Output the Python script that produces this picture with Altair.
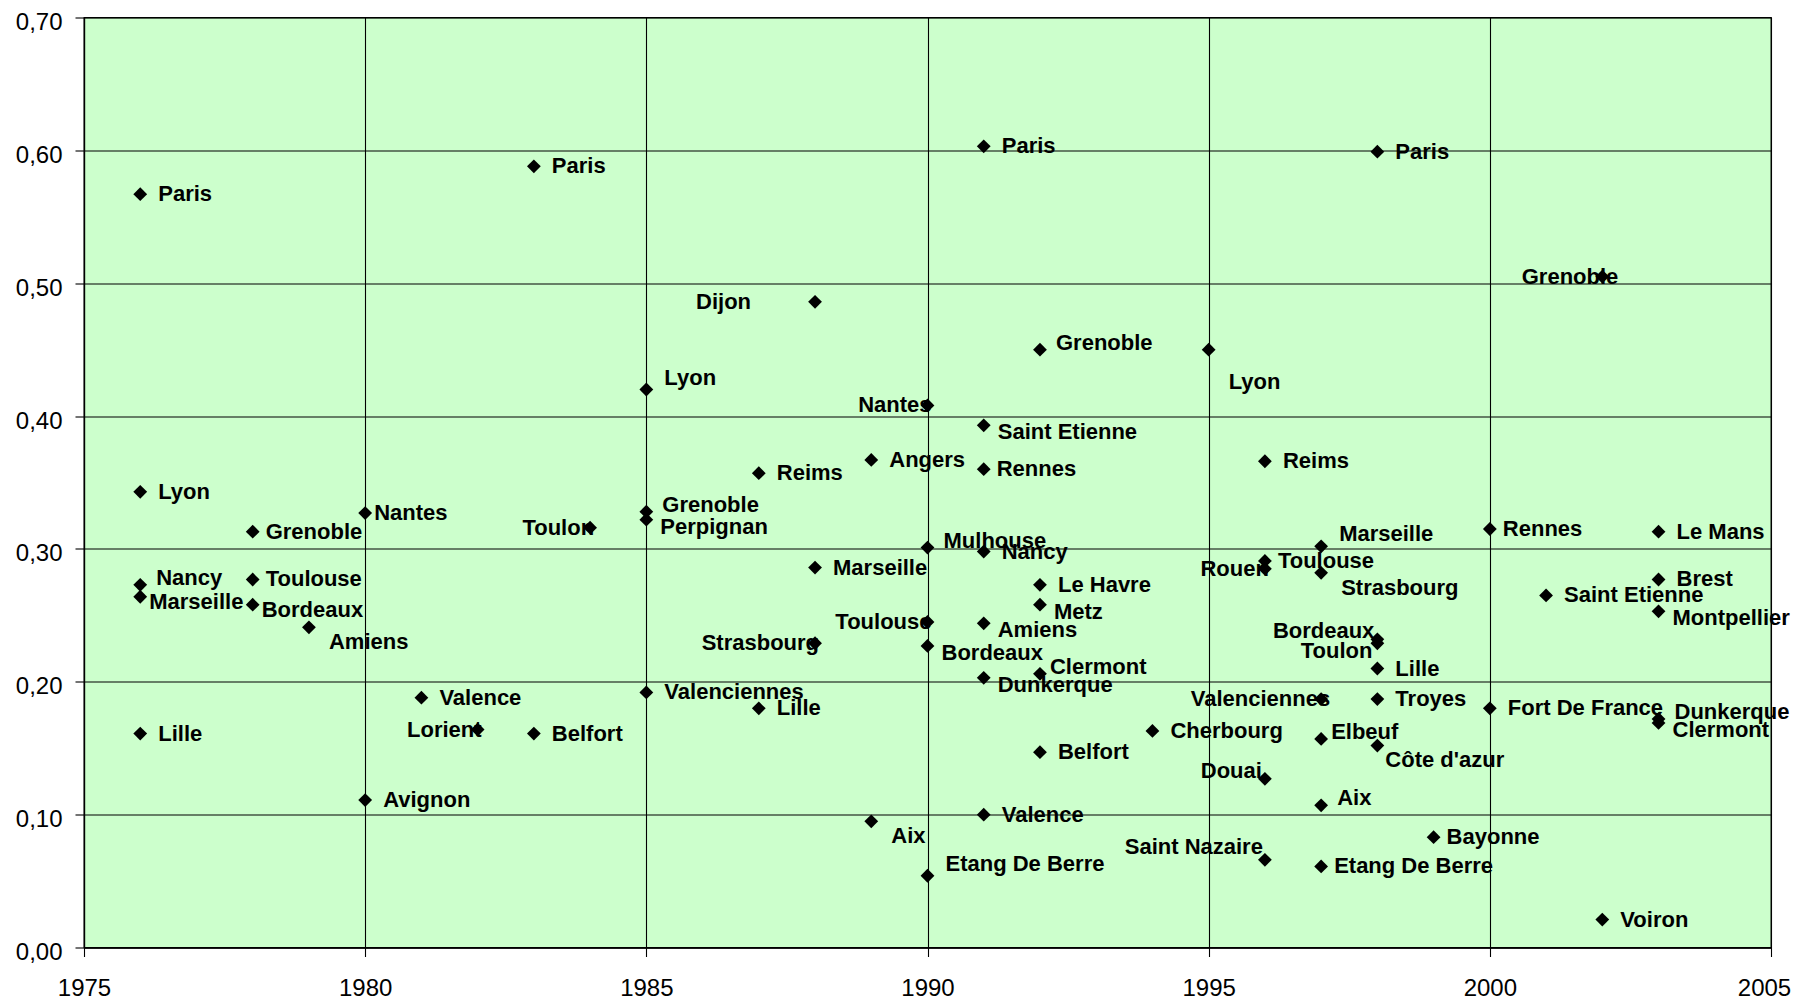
import altair as alt
import pandas as pd

# ---- data ----
cities = [
    "Paris", "Lyon", "Nancy", "Marseille", "Lille",
    "Grenoble", "Toulouse", "Bordeaux", "Amiens",
    "Nantes", "Avignon", "Valence", "Lorient", "Paris", "Belfort", "Toulon",
    "Lyon", "Grenoble", "Perpignan", "Valenciennes",
    "Reims", "Lille", "Dijon", "Marseille", "Strasbourg", "Angers", "Aix",
    "Nantes", "Mulhouse", "Toulouse", "Bordeaux", "Etang De Berre",
    "Paris", "Saint Etienne", "Rennes", "Nancy", "Amiens", "Dunkerque", "Valence",
    "Grenoble", "Le Havre", "Metz", "Clermont", "Belfort",
    "Cherbourg", "Lyon",
    "Reims", "Toulouse", "Rouen", "Douai", "Saint Nazaire",
    "Marseille", "Strasbourg", "Valenciennes", "Elbeuf", "Aix", "Etang De Berre",
    "Paris", "Bordeaux", "Toulon", "Lille", "Troyes", "Côte d'azur",
    "Bayonne", "Rennes", "Fort De France", "Saint Etienne",
    "Grenoble", "Voiron",
    "Le Mans", "Brest", "Montpellier", "Dunkerque", "Clermont",
]
years = [
    1976, 1976, 1976, 1976, 1976,
    1978, 1978, 1978, 1979,
    1980, 1980, 1981, 1982, 1983, 1983, 1984,
    1985, 1985, 1985, 1985,
    1987, 1987, 1988, 1988, 1988, 1989, 1989,
    1990, 1990, 1990, 1990, 1990,
    1991, 1991, 1991, 1991, 1991, 1991, 1991,
    1992, 1992, 1992, 1992, 1992,
    1994, 1995,
    1996, 1996, 1996, 1996, 1996,
    1997, 1997, 1997, 1997, 1997, 1997,
    1998, 1998, 1998, 1998, 1998, 1998,
    1999, 2000, 2000, 2001,
    2002, 2002,
    2003, 2003, 2003, 2003, 2003,
]
values = [
    0.567, 0.343, 0.273, 0.264, 0.161,
    0.313, 0.277, 0.258, 0.241,
    0.327, 0.111, 0.188, 0.164, 0.588, 0.161, 0.316,
    0.420, 0.328, 0.322, 0.192,
    0.357, 0.180, 0.486, 0.286, 0.229, 0.367, 0.095,
    0.408, 0.301, 0.245, 0.227, 0.054,
    0.603, 0.393, 0.360, 0.298, 0.244, 0.203, 0.100,
    0.450, 0.273, 0.258, 0.206, 0.147,
    0.163, 0.450,
    0.366, 0.291, 0.285, 0.127, 0.066,
    0.302, 0.282, 0.187, 0.157, 0.107, 0.061,
    0.599, 0.232, 0.229, 0.210, 0.187, 0.152,
    0.083, 0.315, 0.180, 0.265,
    0.505, 0.021,
    0.313, 0.277, 0.253, 0.172, 0.169,
]
# label placement category of each point (as in the original chart)
label_side = [
    "r", "r", "ru", "rtd", "r",
    "rn", "rn", "rtd", "rdd",
    "rt", "r", "r", "l", "r", "r", "l",
    "ruu", "ru", "rd", "r",
    "r", "r", "lfar", "r", "l", "r", "rdd",
    "l", "ru", "l", "rd", "ruu",
    "r", "rd", "rn", "r", "rd", "rd", "r",
    "ru", "r", "rd", "rtu", "r",
    "r", "rddd",
    "r", "rn", "l", "lu", "luu",
    "ruu", "rdd", "lo", "rtu", "ru", "rn",
    "r", "lu", "ld", "r", "r", "rtdd",
    "rn", "rn", "r", "r",
    "lc", "r",
    "r", "r", "rd", "ru", "rd",
]

year_ticks = [1975, 1980, 1985, 1990, 1995, 2000, 2005]
value_ticks = [0.0, 0.1, 0.2, 0.3, 0.4, 0.5, 0.6, 0.7]

df = pd.DataFrame({"city": cities, "year": years, "value": values, "side": label_side})

# label placement styles: (align, dx, dy)
placements = {
    "r": ("left", 18, 0),
    "rn": ("left", 13, 0),
    "rt": ("left", 9, 0),
    "ru": ("left", 16, -7),
    "rtu": ("left", 10, -7),
    "rd": ("left", 14, 7),
    "rtd": ("left", 9, 5),
    "ruu": ("left", 18, -12),
    "rdd": ("left", 20, 15),
    "rtdd": ("left", 8, 14),
    "rddd": ("left", 20, 32),
    "l": ("right", 4, 0),
    "lo": ("right", 9, 0),
    "lu": ("right", -3, -8),
    "ld": ("right", -5, 8),
    "luu": ("right", -2, -13),
    "lfar": ("right", -64, 0),
    "lc": ("right", 16, 0),
}

FONT = "Liberation Sans"

x_enc = alt.X(
    "year:Q",
    scale=alt.Scale(domain=[1975, 2005], nice=False, zero=False),
    axis=alt.Axis(
        values=year_ticks, format="d", title=None, grid=True,
        labelPadding=20, labelFlush=False, labelOverlap=False,
        labelOffset={"condition": {"test": "datum.value == 2005", "value": -7}, "value": 0},
    ),
)
y_enc = alt.Y(
    "value:Q",
    scale=alt.Scale(domain=[0, 0.7], nice=False, zero=False),
    axis=alt.Axis(
        values=value_ticks, title=None, grid=True,
        labelExpr="replace(format(datum.value, '.2f'), '.', ',')",
        labelPadding=13, labelOffset=5, labelFlush=False, labelOverlap=False,
    ),
)

base = alt.Chart(df)

text_layers = []
for code, (align, dx, dy) in placements.items():
    text_layers.append(
        base.transform_filter(alt.datum.side == code)
        .mark_text(
            align=align, baseline="middle", dx=dx, dy=dy,
            font=FONT, fontWeight="bold", fontSize=22, color="black",
        )
        .encode(x=x_enc, y=y_enc, text="city:N")
    )

points = base.mark_point(
    shape="diamond", filled=True, color="black", size=190, opacity=1
).encode(x=x_enc, y=y_enc)

chart = (
    alt.layer(*text_layers, points)
    .properties(
        width=1687,
        height=930,
        padding={"left": 76, "top": 9.5, "right": 21, "bottom": 52},
        autosize=alt.AutoSizeParams(type="none"),
    )
    .configure_view(fill="#CCFFCC", stroke="black", strokeWidth=1.3)
    .configure_axis(
        labelFont=FONT, labelFontSize=24, labelColor="black",
        gridColor="black", gridOpacity=1, gridWidth=1.1,
        domainColor="black", domainWidth=1.3,
        tickColor="black", tickWidth=1.1, tickSize=9,
    )
)

chart.save("out.html", embed_options={"renderer": "svg", "actions": False})
